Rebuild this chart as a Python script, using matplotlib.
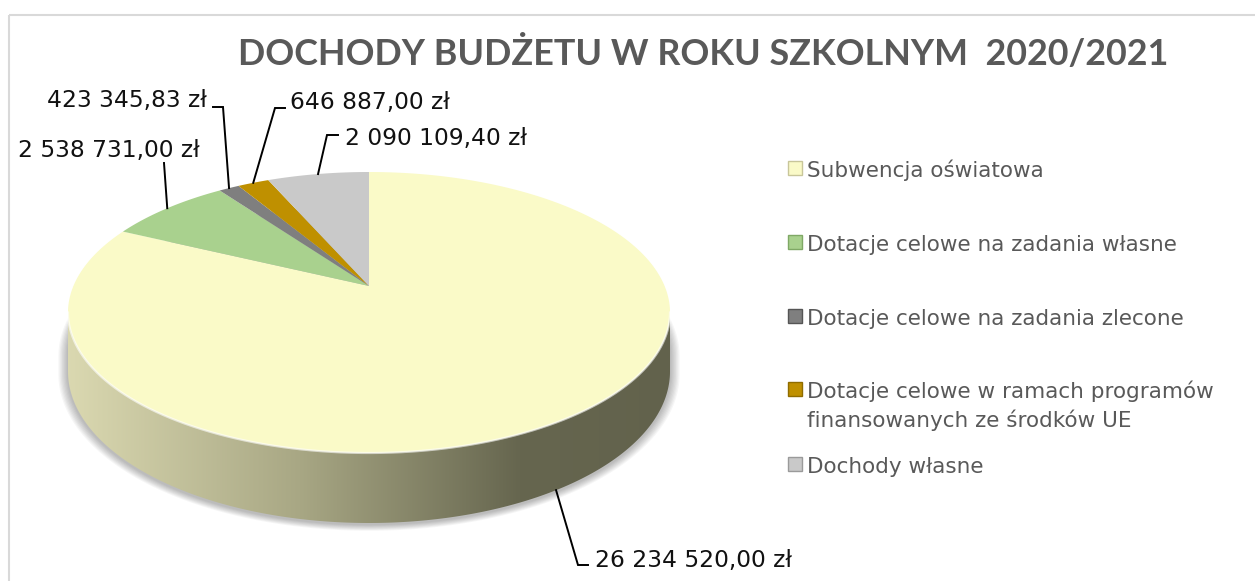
import matplotlib.pyplot as plt
import numpy as np
from matplotlib.patches import Polygon, Rectangle

# data
categories = ['Subwencja oświatowa',
              'Dotacje celowe na zadania własne',
              'Dotacje celowe na zadania zlecone',
              'Dotacje celowe w ramach programów\nfinansowanych ze środków UE',
              'Dochody własne']
values = [26234520.00, 2538731.00, 423345.83, 646887.00, 2090109.40]
value_labels = ['26 234 520,00 zł', '2 538 731,00 zł', '423 345,83 zł',
                '646 887,00 zł', '2 090 109,40 zł']
colors = ['#fafac8', '#a9d18e', '#7f7f7f', '#bf9000', '#c9c9c9']
edge_colors = ['#c8c69a', '#7fa865', '#555555', '#8f6c00', '#9a9a9a']
title = 'DOCHODY BUDŻETU W ROKU SZKOLNYM  2020/2021'

# 3d pie geometry (pixel space, y down)
cx, cy = 369, 286
A, B, k = 295.6, 135.5, 0.1886
H = 56.8


def rim(phi_deg, depth=0.0):
    p = np.radians(phi_deg)
    u, v = np.cos(p), np.sin(p)
    w = 1 + k * v
    return np.column_stack([cx + A * u / w, cy - B * v / w + depth * H / w])


fig = plt.figure(figsize=(12.55, 5.81), dpi=100)
ax = fig.add_axes([0, 0, 1, 1])

fr = np.array(values) / np.sum(values)
cum = np.concatenate([[0], np.cumsum(fr)])
starts = 90 - 360 * cum[:-1]
ends = 90 - 360 * cum[1:]
mids = (starts + ends) / 2

sil = np.degrees(np.arcsin(k))
front = np.linspace(180 + sil, 360 - sil, 200)

# soft shadow, kept below the top face
back = np.linspace(-sil, 180 + sil, 200)
outline = np.vstack([rim(back, 0.7), rim(front, 1)])
for i in range(8):
    s = 1.0 + 0.004 * (i + 1)
    pts = outline.copy()
    pts[:, 0] = cx + (pts[:, 0] - cx) * s
    pts[:, 1] = cy + 40 + (pts[:, 1] - cy - 40) * s + 1.5
    ax.add_patch(Polygon(pts, closed=True, facecolor='black', edgecolor='none',
                         alpha=0.035, zorder=1))

# side of the pie with horizontal gradient
side = np.vstack([rim(front, 0), rim(front[::-1], 1)])
side_patch = Polygon(side, closed=True, facecolor='none', edgecolor='none', zorder=2)
ax.add_patch(side_patch)
gx = np.linspace(60, 680, 400)
stops_x = [60, 300, 520, 680]
stops_c = np.array([[220, 218, 178], [168, 167, 132], [102, 102, 79], [98, 98, 76]]) / 255
grad = np.stack([np.interp(gx, stops_x, stops_c[:, c]) for c in range(3)], axis=-1)[None, :, :]
img = ax.imshow(grad, extent=(60, 680, 560, 300), aspect='auto', zorder=2,
                interpolation='bilinear')
img.set_clip_path(side_patch)

# top face wedges
for i in range(len(values)):
    phis = np.linspace(starts[i], ends[i], max(3, int(abs(starts[i] - ends[i]) * 2)))
    pts = np.vstack([[cx, cy], rim(phis, 0)])
    ax.add_patch(Polygon(pts, closed=True, facecolor=colors[i], edgecolor='none', zorder=3))

# light bevel along front rim
r = rim(front, 0)
ax.plot(r[:, 0], r[:, 1], color='white', lw=1.6, alpha=0.6, zorder=4)

# data labels with leader lines
label_xy = [(595, 567, 'left'), (200, 157, 'right'), (207, 107, 'right'),
            (290, 109, 'left'), (345, 145, 'left')]
leaders = [[(578, 565), (588, 565)], [(164, 163)], [(223, 107), (213, 107)],
           [(275, 108), (285, 108)], [(327, 135), (338, 135)]]
for i in range(len(values)):
    anchor = rim([mids[i]], 1.0 if i == 0 else 0.0)[0]
    pts = np.vstack([anchor, leaders[i]])
    ax.plot(pts[:, 0], pts[:, 1], color='black', lw=1.4, zorder=5,
            solid_joinstyle='miter')
    x, y, ha = label_xy[i]
    ax.text(x, y, value_labels[i], ha=ha, va='baseline', fontsize=16.8,
            family='DejaVu Sans', color='#111111', zorder=6)

# legend
leg_base = [177, 251, 325, 398, 473]
for i, lab in enumerate(categories):
    ax.add_patch(Rectangle((788, leg_base[i] - 16), 14, 14, facecolor=colors[i],
                           edgecolor=edge_colors[i], lw=1, zorder=5))
    for j, line in enumerate(lab.split('\n')):
        ax.text(807, leg_base[i] + 29 * j, line, ha='left', va='baseline',
                fontsize=15.5, family='DejaVu Sans', color='#595959')

# title
ax.text(703, 65, title, ha='center', va='baseline', fontsize=25.8,
        family='Lato', fontweight='bold', color='#595959')

# chart area border
ax.add_patch(Rectangle((9, 15), 1400, 800, fill=False, edgecolor='#d9d9d9',
                       lw=1.5, zorder=0))

ax.set_xlim(0, 1255)
ax.set_ylim(581, 0)
ax.axis('off')

plt.savefig('out.png', dpi=100)
